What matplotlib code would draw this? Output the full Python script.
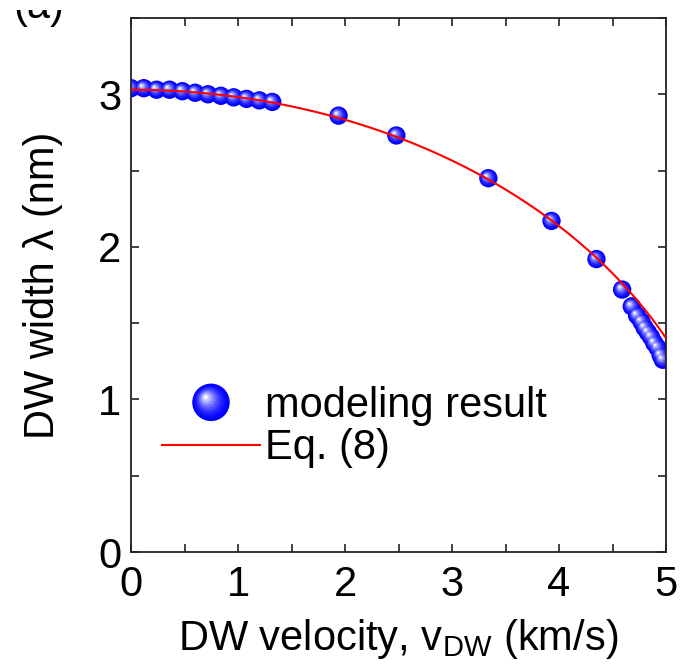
import numpy as np
import matplotlib
matplotlib.use("Agg")
import matplotlib.pyplot as plt
from matplotlib.transforms import offset_copy, Bbox
from matplotlib.legend_handler import HandlerBase
from matplotlib.lines import Line2D
from matplotlib.patches import Circle
from matplotlib.ticker import MultipleLocator

plt.rcParams["font.family"] = ["Liberation Sans", "DejaVu Sans"]
plt.rcParams["mathtext.fontset"] = "custom"
plt.rcParams["mathtext.rm"] = "Liberation Sans"
plt.rcParams["mathtext.it"] = "Liberation Sans:italic"

# Modeling result: domain-wall width versus velocity
v_model = [0.00, 0.12, 0.24, 0.36, 0.48, 0.60, 0.72, 0.84, 0.96, 1.08, 1.20, 1.32,
           1.94, 2.48, 3.34, 3.93, 4.35, 4.59,
           4.68, 4.73, 4.77, 4.80, 4.83, 4.86, 4.89, 4.92, 4.95, 4.97]
width_model = [3.04, 3.04, 3.03, 3.03, 3.02, 3.01, 3.00, 2.99, 2.98, 2.97, 2.96, 2.95,
               2.86, 2.73, 2.45, 2.17, 1.92, 1.72,
               1.61, 1.55, 1.51, 1.47, 1.44, 1.41, 1.37, 1.34, 1.29, 1.26]

# Eq. (8): lambda = lambda0 * sqrt(1 - (v / v_limit)^2)
lambda0 = 3.03      # nm
v_limit = 5.64      # km/s
v_curve = np.linspace(0, 5, 400)
width_curve = lambda0 * np.sqrt(1 - (v_curve / v_limit) ** 2)

FS = 30
BLUE = np.array([0.0, 0.0, 1.0])
WHITE = np.array([1.0, 1.0, 1.0])


def sphere_layers(diam):
    """Concentric discs that give a shaded-ball look with a highlight at upper left."""
    layers = []
    n = 9
    for i in range(n):
        t = i / (n - 1)
        d = diam * (1 - 0.88 * t)
        col = BLUE + (WHITE - BLUE) * (t ** 1.6) * 0.95
        off = 0.28 * diam / 2 * t
        layers.append((d, tuple(col), -off, off))
    return layers


fig = plt.figure(figsize=(6.85, 6.66), dpi=100)
ax = fig.add_axes([131 / 685, 1 - 552 / 666, 535 / 685, 534 / 666])

# Spheres for the modeling result
diam_pt = 13.2
for d, col, dx, dy in sphere_layers(diam_pt):
    tr = offset_copy(ax.transData, fig=fig, x=dx, y=dy, units="points")
    ax.scatter(v_model, width_model, s=d ** 2, color=col, edgecolors="none",
               transform=tr, zorder=2)

ax.plot(v_curve, width_curve, color="red", lw=1.5, zorder=3)

ax.set_xlim(0, 5)
ax.set_ylim(0, 3.5)
ax.xaxis.set_major_locator(MultipleLocator(1))
ax.xaxis.set_minor_locator(MultipleLocator(0.5))
ax.yaxis.set_major_locator(MultipleLocator(1))
ax.yaxis.set_minor_locator(MultipleLocator(0.5))
ax.tick_params(which="both", direction="in", top=True, right=True,
               width=1.2, color="#222222", labelsize=FS, length=5.5)
ax.tick_params(axis="x", pad=9)
ax.tick_params(axis="y", pad=7)
for s in ax.spines.values():
    s.set_linewidth(1.3)
    s.set_color("#222222")

ax.set_xlabel(r"DW velocity, v$_{\mathrm{DW}}$ (km/s)", fontsize=FS, labelpad=9)
ax.set_ylabel("DW width λ (nm)", fontsize=FS, labelpad=25)


class SphereHandler(HandlerBase):
    def __init__(self, diam_px, **kw):
        super().__init__(**kw)
        self.diam_px = diam_px

    def create_artists(self, legend, orig_handle, xdescent, ydescent,
                       width, height, fontsize, trans):
        cx = width / 2 - xdescent
        cy = height / 2 - ydescent
        arts = []
        for d, col, dx, dy in sphere_layers(self.diam_px):
            c = Circle((cx + dx, cy + dy), d / 2, facecolor=col,
                       edgecolor="none", transform=trans)
            arts.append(c)
        return arts


sphere_handle = Line2D([], [], linestyle="none")
line_handle = Line2D([], [], color="red", lw=1.5)
ax.legend([sphere_handle, line_handle], ["modeling result", "Eq. (8)"],
          handler_map={sphere_handle: SphereHandler(27.0)},
          loc="upper left", bbox_to_anchor=(0.058, 0.311),
          frameon=False, fontsize=FS, handlelength=2.35, handletextpad=0.13,
          labelspacing=0.06, borderpad=0, borderaxespad=0)

# Panel tag, trimmed at the top edge of the panel
tag = fig.text(13 / 685, 1 - 18 / 666, "(a)", fontsize=FS, va="baseline", ha="left")
tag.set_clip_box(Bbox.from_extents(0, 0, 685, 666 - 10))
tag.set_clip_on(True)

fig.savefig("out.png", dpi=100)
